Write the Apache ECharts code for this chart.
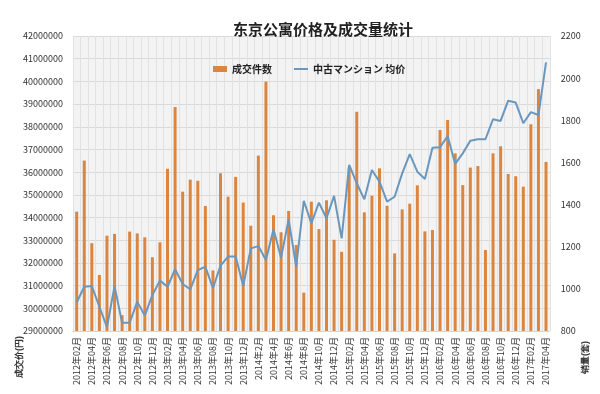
<!DOCTYPE html>
<html>
<head>
<meta charset="utf-8">
<script src="https://cdn.jsdelivr.net/npm/echarts@6/dist/echarts.min.js"></script>
<style>
html,body{margin:0;padding:0;background:#fff;}
#chart{width:600px;height:394px;}
</style>
</head>
<body>
<div id="chart"></div>
<script>
// Months 2012-02 .. 2017-04
const months = [
  '2012年02月','2012年03月','2012年04月','2012年05月','2012年06月','2012年07月','2012年08月','2012年09月','2012年10月','2012年11月','2012年12月',
  '2013年01月','2013年02月','2013年03月','2013年04月','2013年05月','2013年06月','2013年07月','2013年08月','2013年09月','2013年10月','2013年11月','2013年12月',
  '2014年1月','2014年2月','2014年3月','2014年4月','2014年5月','2014年6月','2014年7月','2014年8月','2014年9月','2014年10月','2014年11月','2014年12月',
  '2015年01月','2015年02月','2015年03月','2015年04月','2015年05月','2015年06月','2015年07月','2015年08月','2015年09月','2015年10月','2015年11月','2015年12月',
  '2016年01月','2016年02月','2016年03月','2016年04月','2016年05月','2016年06月','2016年07月','2016年08月','2016年09月','2016年10月','2016年11月','2016年12月',
  '2017年01月','2017年02月','2017年03月','2017年04月'
];
// 成交件数 (bars, left axis)
const barValues = [
  34260000,36510000,32870000,31470000,33200000,33280000,29700000,33380000,33300000,33130000,32250000,32910000,
  36150000,38870000,35140000,35670000,35620000,34510000,31670000,35950000,34920000,35790000,34660000,33640000,
  36730000,39990000,34100000,33350000,34290000,32790000,30690000,34700000,33490000,34760000,33020000,32490000,
  36200000,38660000,34230000,34960000,36170000,34520000,32420000,34360000,34610000,35420000,33390000,33450000,
  37860000,38300000,36830000,35430000,36200000,36270000,32570000,36830000,37140000,35920000,35820000,35360000,
  38110000,39660000,36450000
];
// 中古マンション 均价 (line, right axis)
const lineValues = [
  935,1010,1013,915,818,1013,839,839,939,873,971,1039,
  1010,1093,1023,998,1089,1105,1003,1110,1153,1153,1013,1192,
  1203,1137,1283,1148,1330,1105,1418,1311,1409,1335,1441,1240,
  1588,1501,1425,1564,1509,1414,1437,1548,1639,1556,1521,1670,
  1672,1725,1593,1643,1703,1710,1710,1805,1797,1893,1884,1786,
  1839,1825,2075
];
const leftTicks = {min: 29000000, max: 42000000, interval: 1000000};
const rightTicks = {min: 800, max: 2200, interval: 200};

const chart = echarts.init(document.getElementById('chart'), null, {renderer: 'canvas'});
const FONT = '"Noto Sans CJK SC", "Noto Sans", sans-serif';
chart.setOption({
  animation: false,
  backgroundColor: '#ffffff',
  textStyle: {fontFamily: FONT},
  title: {
    text: '东京公寓价格及成交量统计',
    left: 228, top: 17,
    textStyle: {fontSize: 15, fontWeight: 'bold', color: '#222', fontFamily: FONT}
  },
  legend: {
    left: 208, top: 59,
    itemWidth: 14, itemHeight: 6, itemGap: 22,
    textStyle: {fontSize: 10, color: '#222', fontFamily: FONT, fontWeight: 'bold'},
    data: [
      {name: '成交件数', icon: 'rect'},
      {name: '中古マンション 均价', icon: 'path://M0,0 H14 V2 H0 Z'}
    ]
  },
  grid: {
    left: 72.9, right: 50.2, top: 36, bottom: 63,
    show: true, backgroundColor: '#f3f3f3', borderWidth: 0
  },
  xAxis: {
    type: 'category',
    data: months,
    boundaryGap: true,
    axisLine: {show: true, lineStyle: {color: '#d6d6d6'}},
    axisTick: {show: false},
    axisLabel: {rotate: 90, interval: 1, fontSize: 9, color: '#333', margin: 6},
    splitLine: {show: true, interval: 0, lineStyle: {color: '#e2e2e2', width: 1}}
  },
  yAxis: [
    {
      type: 'value', min: leftTicks.min, max: leftTicks.max, interval: leftTicks.interval,
      axisLine: {show: false}, axisTick: {show: false},
      axisLabel: {fontSize: 9, color: '#333', margin: 10, formatter: v => String(v)},
      splitLine: {show: true, lineStyle: {color: '#dadada', width: 1}}
    },
    {
      type: 'value', min: rightTicks.min, max: rightTicks.max, interval: rightTicks.interval,
      axisLine: {show: false}, axisTick: {show: false},
      axisLabel: {fontSize: 9, color: '#333', margin: 11, formatter: v => String(v)},
      splitLine: {show: false}
    }
  ],
  series: [
    {
      name: '成交件数', type: 'bar', yAxisIndex: 0,
      data: barValues, barWidth: 3,
      itemStyle: {color: '#DB8640'}
    },
    {
      name: '中古マンション 均价', type: 'line', yAxisIndex: 1,
      data: lineValues, symbol: 'none', showSymbol: false,
      lineStyle: {color: '#6A97BE', width: 2},
      itemStyle: {color: '#6A97BE'}
    }
  ],
  graphic: [
    {type: 'text', x: 15, y: 378, rotation: Math.PI / 2,
     style: {text: '成交价(円)', fontSize: 9, fontWeight: 'bold', fill: '#333', font: 'bold 9px ' + FONT}},
    {type: 'text', x: 581, y: 374, rotation: Math.PI / 2,
     style: {text: '销量(套)', fontSize: 9, fontWeight: 'bold', fill: '#333', font: 'bold 9px ' + FONT}}
  ]
});
</script>
</body>
</html>
